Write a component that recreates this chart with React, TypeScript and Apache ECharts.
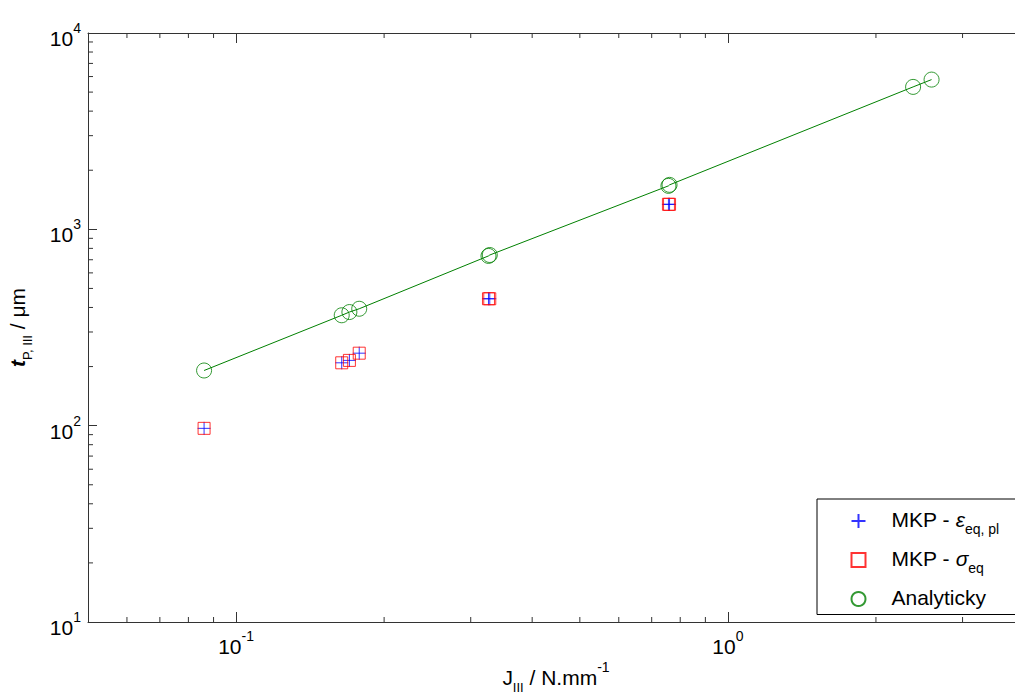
import React, { useEffect, useRef } from 'react';
import * as echarts from 'echarts';

// ---- data ----
const jAnalytic = [0.0861, 0.164, 0.17, 0.178, 0.326, 0.328, 0.757, 0.761, 2.38, 2.595];
const tAnalytic = [191, 365, 379, 394, 732, 740, 1665, 1685, 5315, 5790];

const jMkp = [0.0861, 0.164, 0.17, 0.178, 0.326, 0.328, 0.757, 0.761];
const tMkpEps = [96.9, 209, 215, 234, 443, 443, 1341, 1341];
const tMkpSigma = [96.9, 209, 215, 234, 443, 443, 1341, 1341];

const xMinorTicks = [0.06, 0.07, 0.08, 0.09, 0.2, 0.3, 0.4, 0.5, 0.6, 0.7, 0.8, 0.9, 2, 3];
const yMinorTicks = [20, 30, 40, 50, 60, 70, 80, 90, 200, 300, 400, 500, 600, 700, 800, 900, 2000, 3000, 4000, 5000, 6000, 7000, 8000, 9000];

const X_MIN = 0.05;
const X_MAX = 4;
const Y_MIN = 10;
const Y_MAX = 10000;

const NAME_EPS = 'MKP - εeq, pl';
const NAME_SIG = 'MKP - σeq';
const NAME_ANA = 'Analyticky';

const FONT = 'Arial, "Liberation Sans", Helvetica, sans-serif';
const AXIS = '#333333';
const TXT = '#000000';

const zip = (a: number[], b: number[]) => a.map((v, i) => [v, b[i]]);

const powLabel = (v: number) => {
  const e = Math.log10(v);
  const r = Math.round(e);
  if (Math.abs(e - r) > 1e-6) return '';
  return `{b|10}{s|${r}}`;
};

const tickRich = {
  b: { fontSize: 21, lineHeight: 24, verticalAlign: 'top', padding: [7, 0, 7, 0], fontFamily: FONT, color: TXT },
  s: { fontSize: 14, lineHeight: 14, verticalAlign: 'top', fontFamily: FONT, color: TXT },
};

const nameRich = {
  m: { fontSize: 21, lineHeight: 24, verticalAlign: 'top', padding: [7, 0, 0, 0], fontFamily: FONT, color: TXT },
  mb: { fontSize: 21, lineHeight: 24, verticalAlign: 'top', padding: [7, 0, 0, 0], fontFamily: FONT, color: TXT, fontWeight: 'bold', fontStyle: 'italic' },
  sub: { fontSize: 13, lineHeight: 13, verticalAlign: 'top', padding: [21, 0, 0, 0], fontFamily: FONT, color: TXT },
  sup: { fontSize: 14, lineHeight: 14, verticalAlign: 'top', fontFamily: FONT, color: TXT },
};

const legendRich = {
  a: { fontSize: 21, lineHeight: 24, verticalAlign: 'top', fontFamily: FONT, color: TXT, padding: [0, 0, 0, 21] },
  g: { fontSize: 21, lineHeight: 24, verticalAlign: 'top', fontFamily: FONT, color: TXT, fontStyle: 'italic' },
  sub: { fontSize: 14, lineHeight: 14, verticalAlign: 'top', padding: [13, 0, 0, 0], fontFamily: FONT, color: TXT },
};

const legendFormatter = (name: string) => {
  if (name === NAME_EPS) return '{a|MKP - }{g|ε}{sub|eq, pl}';
  if (name === NAME_SIG) return '{a|MKP - }{g|σ}{sub|eq}';
  return '{a|Analyticky}';
};

export default function App() {
  const ref = useRef<HTMLDivElement>(null);

  useEffect(() => {
    if (!ref.current) return;
    const chart = echarts.init(ref.current, undefined, { renderer: 'svg' });

    const option: any = {
      animation: false,
      backgroundColor: '#ffffff',
      grid: { left: 88, top: 33, right: -9, bottom: 75, containLabel: false, outerBoundsMode: 'none' },
      xAxis: [
        {
          type: 'log',
          logBase: 10,
          min: X_MIN,
          max: X_MAX,
          position: 'bottom',
          axisLine: { show: true, lineStyle: { color: AXIS, width: 1 } },
          axisTick: { show: true, inside: true, length: 10, lineStyle: { color: AXIS } },
          splitLine: { show: false },
          axisLabel: { show: true, margin: 7, formatter: powLabel, rich: tickRich, showMinLabel: true, showMaxLabel: true },
          name: '{m|J}{sub|III}{m| / N.mm}{sup|-1}',
          nameLocation: 'middle',
          nameGap: 38,
          nameMoveOverlap: false,
          nameTextStyle: { rich: nameRich },
        },
        {
          type: 'log',
          logBase: 10,
          min: X_MIN,
          max: X_MAX,
          position: 'top',
          axisLine: { show: true, lineStyle: { color: AXIS, width: 1 } },
          axisTick: { show: true, inside: true, length: 10, lineStyle: { color: AXIS } },
          splitLine: { show: false },
          axisLabel: { show: false },
        },
      ],
      yAxis: {
        type: 'log',
        logBase: 10,
        min: Y_MIN,
        max: Y_MAX,
        axisLine: { show: true, lineStyle: { color: AXIS, width: 1 } },
        axisTick: { show: true, inside: true, length: 9, lineStyle: { color: AXIS } },
        splitLine: { show: false },
        axisLabel: { show: true, margin: 7, formatter: powLabel, rich: tickRich, verticalAlign: 'middle' },
        name: '{mb|t}{sub|P, III}{m| / μm}',
        nameLocation: 'middle',
        nameRotate: 90,
        nameGap: 64,
        nameMoveOverlap: false,
        nameTextStyle: { rich: nameRich },
      },
      legend: {
        show: true,
        orient: 'vertical',
        left: 817,
        top: 499,
        padding: [10, 40, 6, 32],
        itemWidth: 14,
        itemHeight: 14,
        itemGap: 12,
        align: 'left',
        borderColor: '#000000',
        borderWidth: 1,
        borderRadius: 0,
        backgroundColor: '#ffffff',
        data: [NAME_EPS, NAME_SIG, NAME_ANA],
        formatter: legendFormatter,
        textStyle: { rich: legendRich },
      },
      series: [
        {
          name: 'fit',
          type: 'line',
          data: zip(jAnalytic, tAnalytic),
          showSymbol: false,
          symbol: 'none',
          lineStyle: { color: '#008000', width: 1 },
          silent: true,
          z: 2,
        },
        {
          name: NAME_EPS,
          type: 'scatter',
          data: zip(jMkp, tMkpEps),
          symbol: 'path://M6,0L6,12M0,6L12,6',
          symbolSize: 13,
          symbolKeepAspect: true,
          itemStyle: { color: 'none', borderColor: '#0000ff', borderWidth: 1 },
          z: 3,
        },
        {
          name: NAME_SIG,
          type: 'scatter',
          data: zip(jMkp, tMkpSigma),
          symbol: 'rect',
          symbolSize: 12,
          symbolKeepAspect: true,
          itemStyle: { color: 'none', borderColor: '#ff0000', borderWidth: 1 },
          z: 4,
        },
        {
          name: NAME_ANA,
          type: 'scatter',
          data: zip(jAnalytic, tAnalytic),
          symbol: 'circle',
          symbolSize: 15,
          itemStyle: { color: 'none', borderColor: '#008000', borderWidth: 1 },
          z: 5,
        },
        {
          name: 'xminor',
          type: 'custom',
          silent: true,
          data: xMinorTicks.map((v) => [v, Y_MIN]),
          renderItem: (_p: any, api: any) => {
            const v = api.value(0);
            const b = api.coord([v, Y_MIN]);
            const t = api.coord([v, Y_MAX]);
            return {
              type: 'group',
              children: [
                { type: 'line', shape: { x1: b[0], y1: b[1], x2: b[0], y2: b[1] - 5 }, style: { stroke: AXIS, lineWidth: 1 } },
                { type: 'line', shape: { x1: t[0], y1: t[1], x2: t[0], y2: t[1] + 5 }, style: { stroke: AXIS, lineWidth: 1 } },
              ],
            };
          },
          z: 1,
        },
        {
          name: 'yminor',
          type: 'custom',
          silent: true,
          data: yMinorTicks.map((v) => [X_MIN, v]),
          renderItem: (_p: any, api: any) => {
            const v = api.value(1);
            const l = api.coord([X_MIN, v]);
            return {
              type: 'line',
              shape: { x1: l[0], y1: l[1], x2: l[0] + 5, y2: l[1] },
              style: { stroke: AXIS, lineWidth: 1 },
            };
          },
          z: 1,
        },
      ],
    };

    chart.setOption(option);
    return () => chart.dispose();
  }, []);

  return (
    <div
      ref={ref}
      style={{ position: 'fixed', left: 0, top: 0, width: 1015, height: 697, background: '#fff' }}
    />
  );
}
